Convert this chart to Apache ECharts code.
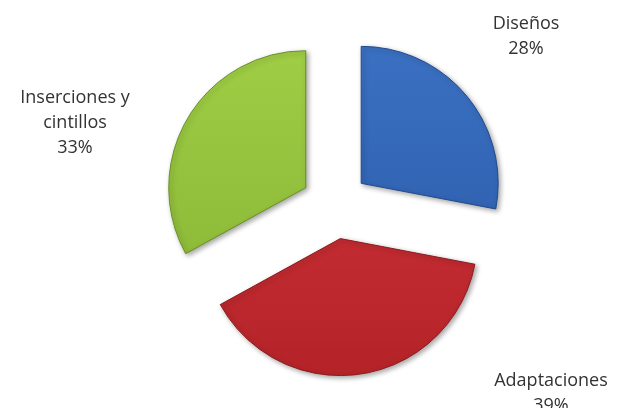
<!DOCTYPE html>
<html>
<head>
<meta charset="utf-8">
<script src="https://cdn.jsdelivr.net/npm/echarts@6/dist/echarts.min.js"></script>
<style>html,body{margin:0;padding:0;background:#fff;}#c{width:625px;height:408px;}</style>
</head>
<body>
<div id="c"></div>
<script>
const categories = ['Diseños', 'Adaptaciones', 'Inserciones y\ncintillos'];
const values = [28, 39, 33];
const percentLabels = ['28%', '39%', '33%'];

const fills = [
  ['#3a70c2', '#2c5ba8', '#214a8e'],
  ['#d0343a', '#b42328', '#8f1a1e'],
  ['#9fcd45', '#88b535', '#6a9124']
];
const labelSpots = [[526, 36], [551, 393], [75, 123]];

const CX = 335, CY = 205, R = 137;

function grad(i) {
  return {
    type: 'linear', global: true,
    x: 0, y: CY - R, x2: 0, y2: CY + R,
    colorStops: [
      {offset: 0, color: fills[i][0]},
      {offset: 1, color: fills[i][1]}
    ]
  };
}

const chart = echarts.init(document.getElementById('c'), null, {renderer: 'canvas'});
chart.setOption({
  animation: false,
  backgroundColor: '#ffffff',
  graphic: categories.map((c, i) => ({
    type: 'text',
    x: labelSpots[i][0],
    y: labelSpots[i][1],
    silent: true,
    style: {
      text: c + '\n' + percentLabels[i],
      fill: '#333333',
      font: '18px "Open Sans"',
      lineHeight: 25,
      align: 'center',
      verticalAlign: 'middle'
    }
  })),
  series: [{
    type: 'pie',
    center: [CX, CY],
    radius: R,
    startAngle: 90,
    clockwise: true,
    avoidLabelOverlap: false,
    selectedMode: 'multiple',
    selectedOffset: 34,
    label: {show: false},
    labelLine: {show: false},
    emphasis: {disabled: true},
    data: categories.map((c, i) => {
      const st = {
        color: grad(i),
        borderColor: fills[i][2],
        borderWidth: 1,
        shadowBlur: 5,
        shadowOffsetX: 2,
        shadowOffsetY: 2,
        shadowColor: 'rgba(0,0,0,0.35)'
      };
      return {
        name: c,
        value: values[i],
        selected: true,
        itemStyle: st,
        select: {itemStyle: st}
      };
    })
  }]
});
</script>
</body>
</html>
